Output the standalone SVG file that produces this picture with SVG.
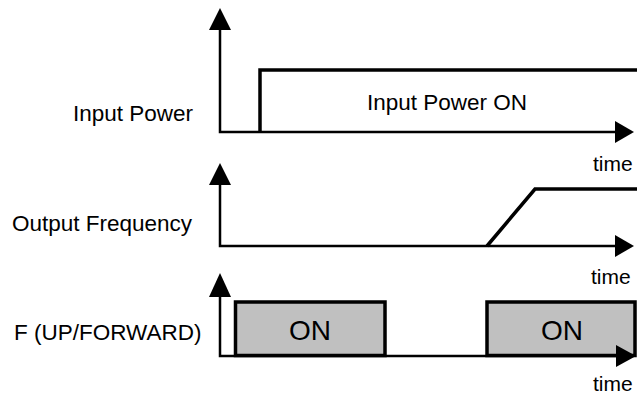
<svg xmlns="http://www.w3.org/2000/svg" width="637" height="394" viewBox="0 0 637 394">
<style>
text{font-family:"Liberation Sans",Arial,sans-serif;fill:#000}
.lbl{font-size:22.5px}
.time{font-size:21px}
.on{font-size:28px;text-anchor:middle}
.axis{stroke:#000;stroke-width:2.5;fill:none}
.sig{stroke:#000;stroke-width:3.5;fill:none}
.box{stroke:#000;stroke-width:3.5;fill:#c0c0c0}
.head{fill:#000;stroke:none}
</style>
<rect width="637" height="394" fill="#fff"/>
<g id="connectors">
  <path class="axis" d="M220,30 V132 H616"/>
  <polygon class="head" points="220,8 209,30 231,30"/>
  <polygon class="head" points="634,132 615,121 615,143"/>
  <path class="axis" d="M220,185 V246 H616"/>
  <polygon class="head" points="220,163 209,185 231,185"/>
  <polygon class="head" points="634,246 615,235 615,257"/>
  <path class="axis" d="M220,297 V356 H616"/>
  <polygon class="head" points="220,273 209,297 231,297"/>
</g>
<g id="input-power">
  <text class="lbl" x="73" y="121">Input Power</text>
  <path class="sig" d="M260,132 V70 H637"/>
  <text class="lbl" x="367" y="110">Input Power ON</text>
  <text class="time" x="593" y="171">time</text>
</g>
<g id="output-frequency">
  <text class="lbl" x="12" y="231">Output Frequency</text>
  <path class="sig" d="M487,246 L535,189 H637"/>
  <text class="time" x="591" y="284">time</text>
</g>
<g id="forward">
  <text class="lbl" x="14" y="340">F (UP/FORWARD)</text>
  <rect class="box" x="235.5" y="302" width="149.5" height="53.5"/>
  <text class="on" x="310" y="340">ON</text>
  <rect class="box" x="487" y="302" width="148" height="53.5"/>
  <text class="on" x="562" y="340">ON</text>
  <polygon class="head" points="636,356 616,345 616,367"/>
  <text class="time" x="593" y="391">time</text>
</g>
</svg>
